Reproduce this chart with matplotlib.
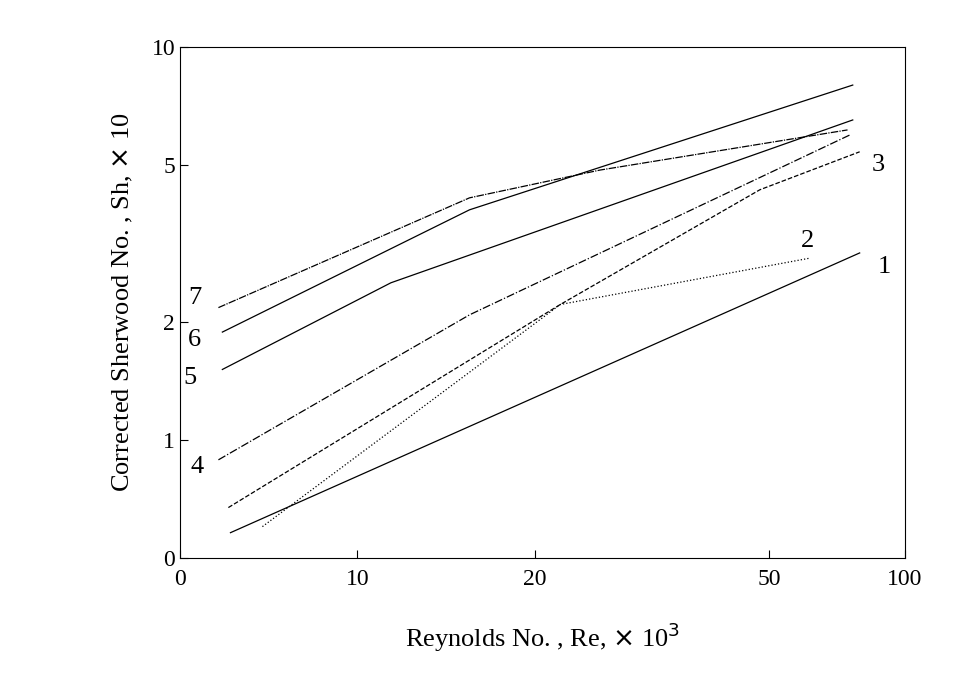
import matplotlib
matplotlib.use("Agg")
import matplotlib.pyplot as plt
from matplotlib.ticker import FixedLocator, NullLocator

plt.rcParams['font.family'] = ['Liberation Serif', 'DejaVu Serif']

# values (Re x 10^3, Sh x 10)
re1 = [6.09, 71.2];             sh1 = [0.580, 2.99]
re2 = [6.90, 22.1, 58.6];       sh2 = [0.601, 2.21, 2.90]
re3 = [6.04, 22.1, 48.2, 71.2]; sh3 = [0.672, 2.21, 4.33, 5.41]
re4 = [5.81, 15.5, 68.5];       sh4 = [0.889, 2.08, 5.97]
re5 = [5.90, 11.4, 69.3];       sh5 = [1.51, 2.51, 6.52]
re6 = [5.90, 15.5, 69.3];       sh6 = [1.88, 3.85, 8.0]
re7 = [5.81, 15.5, 25.8, 67.9]; sh7 = [2.17, 4.13, 4.86, 6.15]

xticks = [5.0, 10, 20, 50, 85.0]
xlabels = ["0", "10", "20", "50", "100"]
yticks = [0.5, 1, 2, 5, 10]
ylabels = ["0", "1", "2", "5", "10"]

fig = plt.figure(figsize=(9.67, 6.92), dpi=100)
ax = fig.add_axes([180/967, 1-558/692, 725/967, 511/692])
ax.set_xscale("log")
ax.set_yscale("log")

k = dict(color="black", lw=0.9)
ax.plot(re1, sh1, linestyle="-", **k)
ax.plot(re2, sh2, linestyle=":", **k)
ax.plot(re3, sh3, linestyle="--", **k)
ax.plot(re4, sh4, linestyle="-.", **k)
ax.plot(re5, sh5, linestyle="-", **k)
ax.plot(re6, sh6, linestyle="-", **k)
ax.plot(re7, sh7, linestyle=(0, (6, 1, 1, 1)), **k)

labels = [("1", 78.5, 2.75), ("2", 58.0, 3.2), ("3", 76.5, 5.0),
          ("4", 5.35, 0.85), ("5", 5.2, 1.44), ("6", 5.3, 1.8), ("7", 5.3, 2.3)]
for t, x, y in labels:
    ax.text(x, y, t, fontsize=19, ha="center", va="center")

ax.set_xlim(5.0, 85.0)
ax.set_ylim(0.5, 10)
ax.xaxis.set_major_locator(FixedLocator(xticks))
ax.xaxis.set_minor_locator(NullLocator())
ax.set_xticklabels(xlabels)
ax.yaxis.set_major_locator(FixedLocator(yticks))
ax.yaxis.set_minor_locator(NullLocator())
ax.set_yticklabels(ylabels)
ax.tick_params(direction="in", labelsize=17, length=6, top=False, right=False)
ax.tick_params(axis="x", pad=8)

ax.set_xlabel(r"Reynolds No. , Re, $\times$ 10$^3$", fontsize=19, labelpad=22)
ax.set_ylabel(r"Corrected Sherwood No. , Sh, $\times$ 10", fontsize=19, labelpad=12)

fig.savefig("out.png", dpi=100)
